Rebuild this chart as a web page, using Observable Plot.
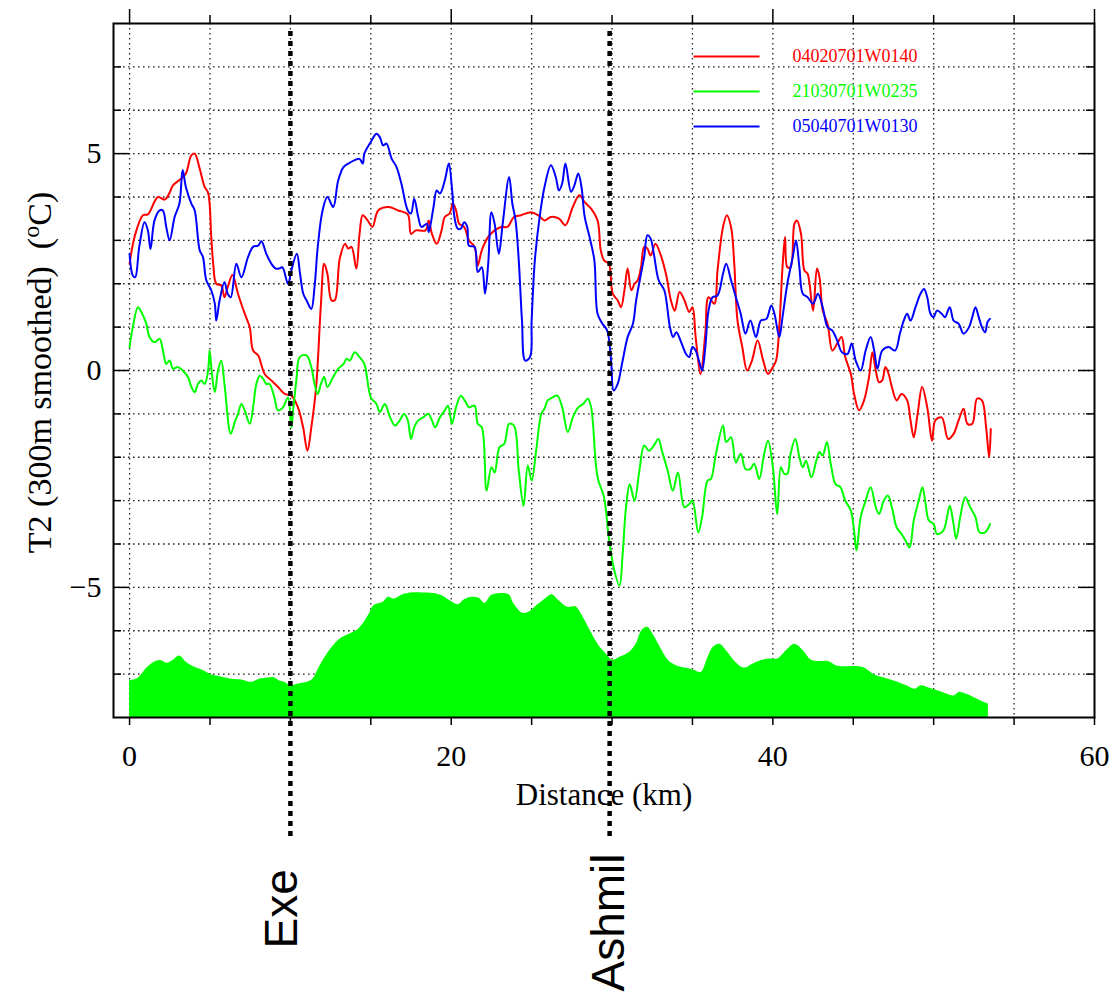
<!DOCTYPE html>
<html>
<head>
<meta charset="utf-8">
<script src="https://cdn.jsdelivr.net/npm/d3@7"></script>
<script src="https://cdn.jsdelivr.net/npm/@observablehq/plot@0.6"></script>
<style>
  html, body { margin: 0; padding: 0; background: #fff; }
  #chart { width: 1114px; height: 995px; }
</style>
</head>
<body>
<div id="chart"></div>
<script>
// ---------------- data ----------------
const seriesNames = ["04020701W0140", "21030701W0235", "05040701W0130"];
const seriesColors = ["#ff0000", "#00ff00", "#0000ff"];

// [distance km, T2 °C]
const red = [[0,2.46],[0.31,3.08],[0.83,3.58],[1.14,3.6],[1.76,4.0],[2.18,3.94],[2.49,4.1],[2.7,4.27],[3.2,4.42],[3.5,4.54],[3.84,4.96],[4.05,5.0],[4.36,4.65],[4.67,4.23],[4.88,4.1],[5.08,3.08],[5.2,2.46],[5.39,2.0],[5.7,1.96],[5.9,1.69],[6.1,1.92],[6.4,2.2],[6.74,1.77],[7.16,1.31],[7.47,1.0],[7.68,0.46],[7.99,0.35],[8.4,-0.08],[8.82,-0.23],[9.23,-0.38],[9.65,-0.54],[10.06,-0.58],[10.47,-0.85],[10.79,-1.31],[11.06,-1.85],[11.3,-1.31],[11.6,-0.38],[11.9,1.54],[12.1,2.46],[12.3,2.23],[12.55,1.62],[12.76,1.62],[13.07,2.58],[13.4,2.92],[13.6,2.81],[13.8,2.85],[14.1,2.35],[14.3,3.15],[14.5,3.58],[14.8,3.46],[15.1,3.31],[15.46,3.69],[16.1,3.77],[16.7,3.69],[17.3,3.6],[17.5,3.15],[17.8,3.23],[18.4,3.23],[18.6,3.46],[18.8,3.15],[19.1,2.92],[19.4,3.23],[19.6,3.54],[19.9,3.62],[20.1,3.85],[20.3,3.69],[20.5,3.38],[20.8,3.31],[21.1,3.0],[21.45,2.85],[21.65,2.42],[21.9,2.77],[22.3,3.08],[22.7,3.23],[23.1,3.31],[23.5,3.31],[23.9,3.54],[24.35,3.58],[24.97,3.65],[25.4,3.58],[25.8,3.46],[26.2,3.54],[26.7,3.5],[27.1,3.35],[27.56,3.77],[27.97,4.04],[28.3,3.88],[28.7,3.73],[29.1,3.46],[29.3,2.77],[29.5,2.54],[29.8,2.46],[30.04,1.77],[30.35,1.62],[30.56,1.46],[30.77,1.85],[30.97,2.35],[31.2,1.85],[31.4,2.0],[31.6,2.08],[31.8,2.38],[32.0,2.85],[32.2,2.81],[32.4,2.65],[32.7,2.92],[33.0,2.69],[33.35,2.23],[33.66,1.62],[33.9,1.38],[34.2,1.81],[34.5,1.62],[34.8,1.35],[35.0,1.46],[35.2,0.77],[35.5,-0.08],[35.8,0.85],[36.0,1.69],[36.36,1.54],[36.56,2.31],[36.9,3.31],[37.14,3.58],[37.4,3.31],[37.6,2.46],[37.8,1.15],[38.1,0.54],[38.4,0.0],[38.7,0.23],[39.05,0.69],[39.4,0.23],[39.7,-0.08],[40.0,0.08],[40.2,0.23],[40.4,1.0],[40.6,2.38],[40.76,3.08],[40.9,2.38],[41.1,2.38],[41.34,3.38],[41.5,3.46],[41.75,3.15],[41.96,2.31],[42.16,2.23],[42.5,1.38],[42.74,2.35],[42.9,2.15],[43.1,1.38],[43.4,1.08],[43.7,0.46],[44.0,0.62],[44.27,0.77],[44.5,0.31],[44.85,-0.08],[45.05,-0.54],[45.36,-0.92],[45.67,-0.69],[45.98,-0.15],[46.19,0.42],[46.4,0.0],[46.6,-0.27],[46.8,-0.23],[47.0,0.08],[47.2,-0.08],[47.4,-0.38],[47.7,-0.69],[48.0,-0.54],[48.35,-0.69],[48.56,-1.15],[48.76,-1.54],[49.0,-1.0],[49.28,-0.38],[49.6,-0.85],[49.9,-1.62],[50.1,-1.15],[50.5,-1.08],[50.9,-1.58],[51.24,-1.46],[51.55,-1.15],[51.86,-0.88],[52.1,-1.23],[52.4,-1.23],[52.7,-0.65],[53.0,-0.69],[53.26,-1.31],[53.45,-2.0],[53.55,-1.35]];

const green = [[0,0.54],[0.2,1.0],[0.52,1.46],[0.73,1.35],[1.04,1.08],[1.24,0.77],[1.55,0.65],[1.87,0.73],[2.07,0.46],[2.28,0.15],[2.49,0.23],[2.7,0.04],[3.0,0.08],[3.3,0.0],[3.63,-0.15],[3.84,-0.38],[4.05,-0.5],[4.25,-0.31],[4.46,-0.23],[4.67,-0.31],[4.88,0.0],[4.98,0.46],[5.12,-0.08],[5.3,-0.5],[5.5,0.0],[5.7,0.23],[5.9,-0.31],[6.29,-1.46],[6.54,-1.19],[6.74,-1.0],[6.95,-0.77],[7.16,-0.92],[7.47,-1.23],[7.68,-0.85],[7.88,-0.31],[8.1,-0.12],[8.3,-0.19],[8.5,-0.31],[8.7,-0.31],[9.0,-0.62],[9.23,-0.92],[9.54,-0.85],[9.85,-0.62],[10.06,-1.31],[10.17,-0.92],[10.37,-0.23],[10.58,0.31],[11.0,0.35],[11.3,0.08],[11.5,-0.31],[11.7,-0.54],[11.9,-0.31],[12.1,-0.15],[12.3,-0.38],[12.66,-0.15],[12.97,0.04],[13.3,0.15],[13.5,0.27],[13.7,0.23],[14.0,0.42],[14.3,0.31],[14.6,0.15],[15.0,-0.62],[15.35,-0.77],[15.56,-0.96],[15.87,-0.77],[16.2,-1.08],[16.5,-1.27],[16.8,-1.15],[17.07,-1.0],[17.3,-1.15],[17.5,-1.58],[17.7,-1.31],[17.95,-1.15],[18.26,-1.08],[18.57,-1.0],[18.8,-1.15],[19.0,-1.31],[19.3,-1.08],[19.6,-0.92],[19.8,-0.81],[20.05,-1.23],[20.3,-0.85],[20.6,-0.58],[20.9,-0.73],[21.1,-0.85],[21.45,-0.81],[21.65,-1.23],[21.9,-1.31],[22.2,-2.77],[22.5,-2.23],[22.7,-2.35],[23.0,-1.77],[23.3,-1.69],[23.6,-1.23],[23.9,-1.27],[24.2,-2.31],[24.5,-3.12],[24.76,-2.19],[25.0,-2.54],[25.28,-1.85],[25.6,-1.0],[25.8,-0.88],[26.0,-0.69],[26.3,-0.62],[26.6,-0.58],[26.9,-0.85],[27.25,-1.42],[27.56,-1.08],[27.9,-0.85],[28.2,-0.77],[28.5,-0.65],[28.7,-0.85],[29.1,-2.46],[29.5,-2.92],[29.8,-3.85],[30.1,-4.54],[30.46,-4.96],[30.66,-4.23],[30.87,-3.15],[31.1,-2.62],[31.4,-3.0],[31.7,-2.31],[32.0,-1.73],[32.3,-1.85],[32.6,-1.73],[32.88,-1.58],[33.1,-1.85],[33.46,-2.31],[33.78,-2.77],[34.1,-2.35],[34.5,-3.15],[34.8,-3.08],[35.0,-3.0],[35.36,-3.73],[35.6,-3.38],[35.94,-2.54],[36.15,-2.5],[36.46,-1.92],[36.9,-1.27],[37.1,-1.65],[37.4,-1.54],[37.7,-2.12],[38.0,-1.92],[38.3,-2.27],[38.6,-2.27],[38.84,-2.15],[39.15,-2.5],[39.46,-1.92],[39.7,-1.62],[40.0,-2.23],[40.27,-3.31],[40.5,-2.23],[40.7,-2.38],[40.9,-2.38],[41.1,-1.92],[41.4,-1.58],[41.65,-2.0],[41.86,-2.23],[42.06,-2.08],[42.4,-2.46],[42.7,-2.08],[42.9,-1.88],[43.1,-1.96],[43.36,-1.65],[43.6,-2.15],[43.9,-2.62],[44.2,-2.69],[44.5,-3.0],[44.85,-3.23],[45.05,-3.69],[45.2,-4.15],[45.46,-3.38],[45.77,-3.0],[46.08,-2.69],[46.4,-3.15],[46.6,-3.31],[46.9,-3.0],[47.15,-2.88],[47.4,-3.15],[47.7,-3.62],[48.0,-3.77],[48.25,-3.92],[48.5,-4.08],[48.76,-3.46],[49.07,-3.0],[49.3,-2.69],[49.5,-3.08],[49.7,-3.46],[50.0,-3.54],[50.2,-3.77],[50.6,-3.69],[51.0,-3.12],[51.2,-3.46],[51.4,-3.88],[51.65,-3.38],[51.96,-2.92],[52.27,-3.15],[52.6,-3.38],[52.85,-3.73],[53.2,-3.73],[53.5,-3.54]];

const blue = [[0,2.69],[0.2,2.19],[0.35,2.15],[0.6,2.85],[0.93,3.42],[1.14,3.23],[1.3,2.8],[1.55,3.46],[1.87,3.69],[2.07,3.69],[2.28,3.31],[2.49,3.0],[2.8,3.54],[3.1,3.85],[3.3,4.62],[3.5,4.23],[3.84,3.85],[4.05,3.69],[4.36,2.77],[4.56,2.62],[4.77,2.08],[5.08,1.85],[5.3,1.54],[5.39,1.15],[5.6,1.62],[5.9,2.04],[6.1,1.77],[6.29,1.69],[6.64,2.46],[6.95,2.15],[7.37,2.62],[7.68,2.85],[7.99,2.88],[8.2,2.98],[8.5,2.69],[8.82,2.46],[9.1,2.35],[9.3,2.35],[9.5,2.38],[9.85,2.0],[10.06,2.31],[10.4,2.69],[10.6,2.23],[10.8,1.77],[11.0,1.62],[11.3,1.42],[11.5,1.92],[11.7,2.85],[12.0,3.69],[12.3,4.0],[12.66,3.77],[12.97,4.38],[13.3,4.69],[13.6,4.77],[14.0,4.85],[14.3,4.88],[14.5,4.77],[14.6,5.0],[15.0,5.27],[15.35,5.46],[15.56,5.38],[15.77,5.19],[15.97,5.23],[16.3,4.88],[16.6,4.69],[16.9,4.31],[17.3,3.69],[17.5,3.62],[17.7,3.96],[17.95,3.54],[18.15,3.31],[18.5,3.38],[18.6,3.19],[18.9,3.77],[19.1,4.15],[19.3,4.08],[19.6,4.38],[19.85,4.77],[20.04,4.23],[20.2,3.54],[20.4,3.27],[20.6,3.27],[20.8,3.42],[21.0,3.31],[21.1,2.88],[21.45,2.85],[21.65,2.27],[21.9,2.38],[22.1,1.77],[22.3,2.46],[22.5,3.65],[22.7,3.38],[22.96,2.69],[23.2,3.38],[23.6,4.46],[23.8,3.85],[24.0,3.46],[24.2,2.54],[24.4,1.15],[24.6,0.23],[24.9,0.31],[25.0,1.15],[25.2,2.54],[25.5,3.54],[25.8,4.23],[26.2,4.73],[26.5,4.46],[26.7,4.15],[26.9,4.31],[27.1,4.77],[27.45,4.12],[27.66,4.27],[27.9,4.54],[28.1,4.23],[28.3,3.54],[28.6,3.08],[28.9,2.54],[29.1,1.31],[29.4,1.08],[29.7,0.92],[29.94,0.23],[30.1,-0.46],[30.35,-0.31],[30.66,0.23],[30.97,0.77],[31.3,1.08],[31.5,1.62],[31.8,2.23],[32.0,2.62],[32.2,3.12],[32.4,3.04],[32.6,2.69],[32.9,2.08],[33.25,1.85],[33.6,1.0],[33.8,0.77],[34.0,0.88],[34.3,0.65],[34.6,0.38],[34.8,0.31],[35.0,0.54],[35.2,0.46],[35.4,0.23],[35.6,0.0],[35.8,0.54],[36.0,1.38],[36.25,1.69],[36.56,1.73],[36.9,2.23],[37.1,2.46],[37.4,2.08],[37.7,1.69],[38.0,1.31],[38.3,0.85],[38.6,1.15],[38.95,0.77],[39.25,1.15],[39.6,1.19],[39.9,1.5],[40.1,1.31],[40.4,0.77],[40.6,1.23],[40.9,2.0],[41.24,2.62],[41.44,3.0],[41.65,2.38],[41.86,1.77],[42.16,1.69],[42.5,1.54],[42.8,1.77],[43.1,1.46],[43.4,1.0],[43.7,0.92],[44.0,0.69],[44.3,0.42],[44.64,0.38],[44.9,0.62],[45.15,0.23],[45.46,0.0],[45.77,0.46],[46.08,0.77],[46.3,0.46],[46.5,0.04],[46.8,0.46],[47.2,0.54],[47.6,0.46],[47.9,0.85],[48.14,1.15],[48.35,1.31],[48.56,1.15],[48.87,1.46],[49.18,1.77],[49.4,1.88],[49.6,1.69],[49.8,1.31],[50.0,1.23],[50.2,1.38],[50.5,1.31],[50.7,1.23],[51.0,1.46],[51.24,1.15],[51.55,1.08],[51.86,0.85],[52.2,1.0],[52.4,1.23],[52.6,1.46],[52.8,1.23],[53.0,1.0],[53.2,0.88],[53.35,1.12],[53.5,1.19]];

// terrain profile (drawn on the T2 axis)
const terrain = [[0,-7.15],[0.42,-7.12],[0.77,-7.0],[1.11,-6.85],[1.64,-6.71],[1.99,-6.69],[2.33,-6.75],[2.68,-6.69],[3.1,-6.58],[3.55,-6.73],[4.08,-6.85],[4.6,-6.92],[5.12,-7.02],[5.64,-7.06],[6.34,-7.12],[7.04,-7.14],[7.56,-7.19],[8.08,-7.12],[8.6,-7.09],[8.95,-7.08],[9.3,-7.15],[9.65,-7.19],[10.0,-7.27],[10.52,-7.23],[11.05,-7.19],[11.4,-7.12],[11.74,-6.88],[12.09,-6.65],[12.6,-6.38],[13.1,-6.19],[13.66,-6.08],[14.18,-5.98],[14.5,-5.85],[14.9,-5.62],[15.2,-5.42],[15.75,-5.35],[16.1,-5.23],[16.45,-5.27],[17.0,-5.17],[17.5,-5.13],[18.2,-5.13],[18.9,-5.14],[19.4,-5.19],[19.93,-5.31],[20.45,-5.4],[20.8,-5.29],[21.3,-5.23],[21.74,-5.25],[22.1,-5.37],[22.5,-5.19],[23.07,-5.14],[23.6,-5.17],[23.9,-5.38],[24.4,-5.59],[24.8,-5.58],[25.33,-5.42],[25.85,-5.27],[26.27,-5.17],[26.7,-5.31],[27.25,-5.46],[27.77,-5.45],[28.1,-5.62],[28.65,-6.0],[29.2,-6.35],[29.5,-6.48],[29.75,-6.58],[30.03,-6.68],[30.55,-6.6],[31.08,-6.5],[31.5,-6.31],[31.85,-6.0],[32.2,-5.92],[32.55,-6.08],[33.0,-6.38],[33.52,-6.69],[34.04,-6.81],[34.56,-6.86],[35.09,-6.91],[35.54,-6.96],[35.96,-6.62],[36.3,-6.38],[36.7,-6.31],[37.2,-6.5],[37.7,-6.73],[38.22,-6.86],[38.75,-6.77],[39.27,-6.69],[39.8,-6.65],[40.3,-6.65],[40.84,-6.46],[41.36,-6.31],[41.9,-6.46],[42.4,-6.68],[42.9,-6.71],[43.45,-6.71],[43.97,-6.81],[44.67,-6.83],[45.37,-6.83],[45.7,-6.86],[46.24,-7.0],[46.94,-7.09],[47.63,-7.17],[48.33,-7.27],[48.85,-7.35],[49.2,-7.27],[49.7,-7.32],[50.2,-7.38],[50.75,-7.45],[51.3,-7.5],[51.6,-7.42],[52.0,-7.46],[52.5,-7.54],[53.0,-7.63],[53.4,-7.69]];

const markerKm = [10, 29.85];
const markerNames = ["Exe", "Ashmil"];

const xTickLabels = [0, 20, 40, 60];
const xMinorTicks = [0, 5, 10, 15, 20, 25, 30, 35, 40, 45, 50, 55, 60];
const yTickLabels = [-5, 0, 5];
const yMinorTicks = [-7, -6, -5, -4, -3, -2, -1, 0, 1, 2, 3, 4, 5, 6, 7];
const xGrid = [0, 5, 10, 15, 20, 25, 30, 35, 40, 45, 50, 55];
const yGrid = [-7, -6, -5, -4, -3, -2, -1, 0, 1, 2, 3, 4, 5, 6, 7];

const xLabel = "Distance (km)";
const yLabelMain = "T2 (300m smoothed)\u2002(";
const yLabelSup = "o";
const yLabelTail = "C)";

// ---------------- layout ----------------
const W = 1114, H = 995;
const mL = 113, mR = 20, mT = 23, mB = 278;
const xDom = [-1, 60], yDom = [-8, 8];
// pixel -> data helpers (for offsets outside/inside the frame)
const xAt = px => xDom[0] + (px - mL) * (xDom[1] - xDom[0]) / (W - mR - mL);
const yAt = py => yDom[1] - (py - mT) * (yDom[1] - yDom[0]) / (H - mB - mT);

const serif = "'Liberation Serif', 'Times New Roman', serif";
const sans = "'Liberation Sans', Arial, sans-serif";
const fmt = d => d < 0 ? "\u2212" + Math.abs(d) : String(d);

const seriesData = [red, green, blue];
const legendRows = seriesNames.map((name, i) => ({name, color: seriesColors[i], i}));
const legendY = [56, 91, 126];

const marks = [
  // grid
  Plot.ruleY(yGrid, {y: d => d, stroke: "#222", strokeWidth: 1.3, strokeDasharray: "1.6,3.4"}),
  Plot.ruleX(xGrid, {x: d => d, stroke: "#222", strokeWidth: 1.3, strokeDasharray: "1.6,3.4"}),
  // terrain
  Plot.areaY(terrain, {x: d => d[0], y1: () => yDom[0], y2: d => d[1], fill: "#00ff00", curve: "catmull-rom"}),
  // series
  ...seriesData.map((s, i) => Plot.line(s, {x: d => d[0], y: d => d[1], stroke: seriesColors[i], strokeWidth: 2, curve: "catmull-rom"})),
  // legend
  Plot.link(legendRows, {x1: () => xAt(693), x2: () => xAt(759), y1: d => yAt(legendY[d.i]), y2: d => yAt(legendY[d.i]), stroke: d => d.color, strokeWidth: 2}),
  Plot.text(legendRows, {x: () => xAt(792), y: d => yAt(legendY[d.i]), text: d => d.name, fill: d => d.color, textAnchor: "start", fontFamily: serif, fontSize: 18}),
  // frame
  Plot.frame({stroke: "black", strokeWidth: 2}),
  // bottom ticks (outward)
  Plot.ruleX(xMinorTicks, {x: d => d, y1: () => yDom[0], y2: () => yAt(H - mB + 8), stroke: "black", strokeWidth: 1.5}),
  // top ticks (outward, major longer)
  Plot.ruleX(xMinorTicks, {x: d => d, y1: () => yDom[1], y2: d => yAt(mT - (xTickLabels.includes(d) ? 14 : 8)), stroke: "black", strokeWidth: 1.5}),
  // left ticks (inward)
  Plot.ruleY(yMinorTicks, {y: d => d, x1: () => xDom[0], x2: d => xAt(mL + (yTickLabels.includes(d) ? 16 : 8)), stroke: "black", strokeWidth: 1.5}),
  // right ticks (inward)
  Plot.ruleY(yMinorTicks, {y: d => d, x1: () => xDom[1], x2: d => xAt(W - mR - (yTickLabels.includes(d) ? 16 : 8)), stroke: "black", strokeWidth: 1.5}),
  // tick labels
  Plot.text(xTickLabels, {x: d => d, y: () => yDom[0], dy: 39, text: fmt, fontFamily: serif, fontSize: 30, fill: "black"}),
  Plot.text(yTickLabels, {x: () => xDom[0], y: d => d, dx: -12, text: fmt, textAnchor: "end", fontFamily: serif, fontSize: 30, fill: "black"}),
  // axis titles
  Plot.text([xLabel], {frameAnchor: "bottom", dy: 87, text: d => d, fontFamily: serif, fontSize: 31, fill: "black"}),
  Plot.text([yLabelMain + yLabelSup + yLabelTail], {frameAnchor: "left", dx: -73, dy: 2, rotate: -90, textAnchor: "middle", text: d => d, fontFamily: serif, fontSize: 34, fill: "black"}),
  // location markers
  Plot.ruleX(markerKm, {x: d => d, y1: () => yAt(31), y2: () => yAt(840), stroke: "black", strokeWidth: 4.5, strokeDasharray: "5,5"}),
  Plot.text([0], {x: () => markerKm[0], y: () => yAt(948), text: () => markerNames[0], rotate: -90, textAnchor: "start", lineAnchor: "bottom", dx: 7, fontFamily: sans, fontSize: 46, fill: "black"}),
  Plot.text([1], {x: () => markerKm[1], y: () => yAt(991), text: () => markerNames[1], rotate: -90, textAnchor: "start", lineAnchor: "bottom", dx: 14, fontFamily: sans, fontSize: 46, fill: "black"})
];

const chart = Plot.plot({
  width: W, height: H,
  marginLeft: mL, marginRight: mR, marginTop: mT, marginBottom: mB,
  x: {domain: xDom, axis: null},
  y: {domain: yDom, axis: null},
  style: {background: "white", overflow: "visible"},
  marks
});

// superscript "o" in the y label
chart.querySelectorAll("text").forEach(t => {
  if (t.textContent === yLabelMain + yLabelSup + yLabelTail) {
    const target = t.querySelector("tspan") || t;
    while (target.firstChild) target.removeChild(target.firstChild);
    const ns = "http://www.w3.org/2000/svg";
    const a = document.createElementNS(ns, "tspan"); a.textContent = yLabelMain;
    const b = document.createElementNS(ns, "tspan"); b.textContent = yLabelSup;
    b.setAttribute("dy", "-12"); b.setAttribute("font-size", "24");
    const c = document.createElementNS(ns, "tspan"); c.textContent = yLabelTail;
    c.setAttribute("dy", "12");
    target.append(a, b, c);
  }
});

document.getElementById("chart").appendChild(chart);
</script>
</body>
</html>
